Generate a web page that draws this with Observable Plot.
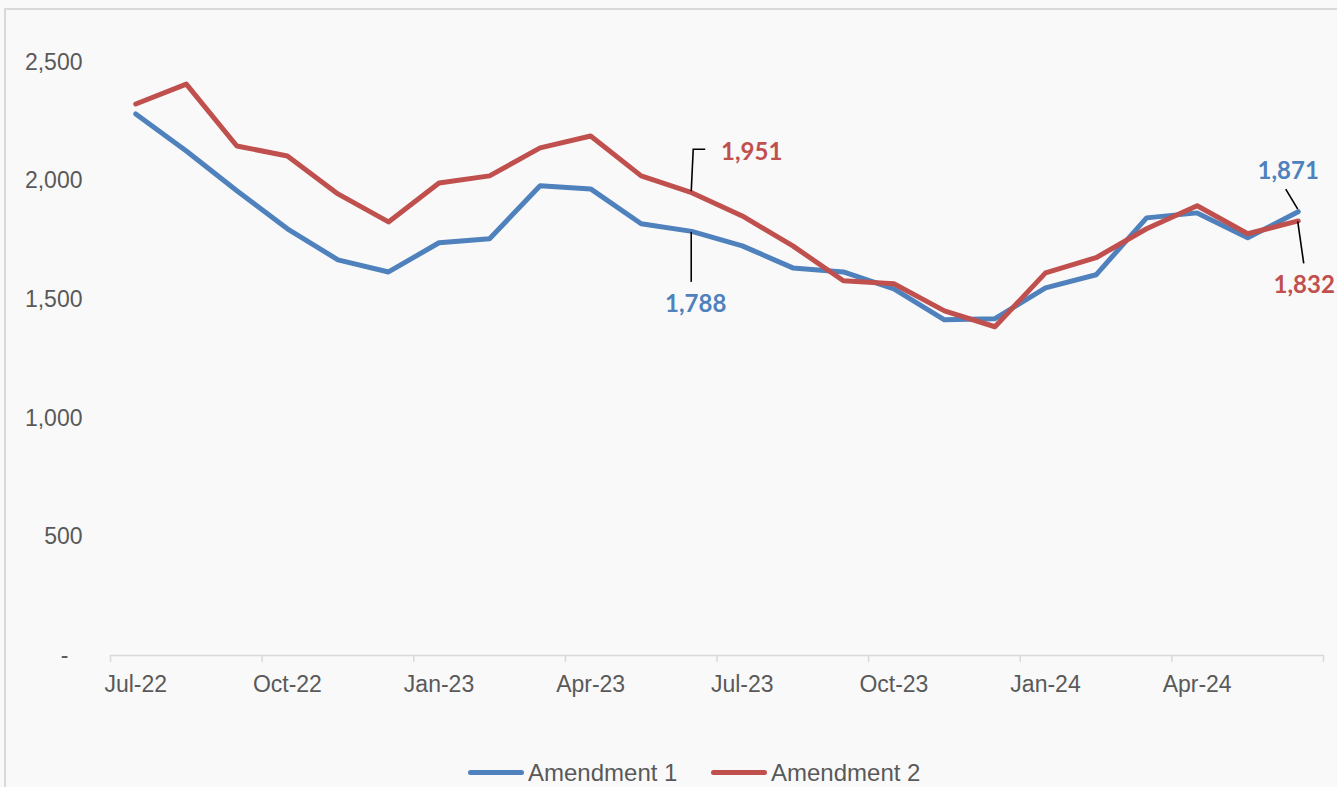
<!DOCTYPE html>
<html><head><meta charset="utf-8">
<script src="https://cdn.jsdelivr.net/npm/d3@7"></script>
<script src="https://cdn.jsdelivr.net/npm/@observablehq/plot@0.6"></script>
<style>
html,body{margin:0;padding:0;background:#fff;overflow:hidden;}
#wrap{position:relative;width:1337px;height:787px;background:#f9f9f9;overflow:hidden;}
#frame{position:absolute;left:4px;top:8px;width:1400px;height:900px;border:2px solid #d9d9d9;box-sizing:border-box;}
#chart{position:absolute;left:0;top:0;}
#legend{position:absolute;left:0;top:759px;width:1337px;font-family:"Liberation Sans",Arial,sans-serif;font-size:24px;color:#595959;}
.item{position:absolute;top:0;display:flex;align-items:center;white-space:nowrap;line-height:27px;}
.swatch{display:inline-block;width:56px;height:5px;border-radius:3px;margin-right:4px;}
</style>
</head><body>
<div id="wrap"><div id="frame"></div><div id="chart"></div><div id="legend"></div></div>
<script>
const months = ["Jul-22","Aug-22","Sep-22","Oct-22","Nov-22","Dec-22","Jan-23","Feb-23","Mar-23","Apr-23","May-23","Jun-23","Jul-23","Aug-23","Sep-23","Oct-23","Nov-23","Dec-23","Jan-24","Feb-24","Mar-24","Apr-24","May-24","Jun-24"];
const amendment1 = [2283,2127,1959,1799,1668,1617,1740,1757,1980,1967,1820,1788,1727,1634,1617,1546,1415,1420,1550,1605,1845,1866,1761,1871];
const amendment2 = [2325,2409,2148,2106,1946,1828,1992,2022,2140,2190,2022,1951,1853,1727,1580,1567,1453,1386,1613,1677,1799,1896,1778,1832];
const seriesNames = ["Amendment 1","Amendment 2"];
const seriesColors = ["#4F81BD","#C0504D"];
const quarterLabels = ["Jul-22","Oct-22","Jan-23","Apr-23","Jul-23","Oct-23","Jan-24","Apr-24"];
const yTicks = [0,500,1000,1500,2000,2500];
const labelled = [
  {s:1, m:"Jun-23"}, {s:0, m:"Jun-23"}, {s:0, m:"Jun-24"}, {s:1, m:"Jun-24"}
];
// pixel offsets for annotation text and leader lines (style, not data)
const annoStyle = [
  {dx:60, dy:-40, leader:[[0,-1],[2,-43],[14,-43]]},
  {dx:4, dy:73, leader:[[0,1],[0,51]]},
  {dx:-10, dy:-40, leader:[[-12,-22],[0,-2]]},
  {dx:6, dy:64, leader:[[0,1],[6,43]]}
];

const seriesValues = [amendment1, amendment2];
const rows = [];
seriesValues.forEach((vals, s) => vals.forEach((v, i) => rows.push({i, month: months[i], series: seriesNames[s], value: v})));

const quarterIdx = quarterLabels.map(q => months.indexOf(q));
const uniqBounds = Array.from(new Set(d3.range(-0.5, months.length, 3).concat([months.length - 0.5])));

const annos = labelled.map((a, k) => {
  const i = months.indexOf(a.m);
  const v = seriesValues[a.s][i];
  return {i, value: v, color: seriesColors[a.s], text: d3.format(",")(v), ...annoStyle[k]};
});

const font = '"Liberation Sans", Arial, sans-serif';
const marks = [
  Plot.ruleY([0], {x1: -0.5, x2: months.length - 0.5, stroke: "#d9d9d9", strokeWidth: 1.5}),
  Plot.axisX(uniqBounds, {tickSize: 7, tickFormat: () => "", label: null, stroke: "#d9d9d9", strokeWidth: 1.5}),
  Plot.text(quarterIdx, {x: d => d, y: 0, text: (d, k) => quarterLabels[k], dy: 29, lineAnchor: "middle", fontSize: 23, fill: "#595959", fontFamily: font}),
  Plot.axisY(yTicks.filter(d => d > 0), {tickSize: 0, tickPadding: 28, label: null, tickFormat: d3.format(","), fontSize: 23, fill: "#595959", fontFamily: font}),
  Plot.text([0], {y: d => d, frameAnchor: "left", dx: -42, textAnchor: "end", text: () => "-", fontSize: 23, fill: "#595959", fontFamily: font}),
];
seriesNames.forEach((name, s) => {
  marks.push(Plot.line(rows.filter(r => r.series === name), {x: "i", y: "value", stroke: seriesColors[s], strokeWidth: 5, strokeLinejoin: "round", strokeLinecap: "round"}));
});
annos.forEach(a => {
  marks.push(Plot.text([a], {x: "i", y: "value", text: "text", dx: a.dx, dy: a.dy, fill: a.color, fontWeight: "bold", fontSize: 24, fontFamily: "Lato, sans-serif", lineAnchor: "middle"}));
});

const plot = Plot.plot({
  width: 1337, height: 700,
  marginLeft: 110, marginRight: 14, marginTop: 62, marginBottom: 45,
  style: {background: "transparent", overflow: "visible"},
  x: {type: "linear", domain: [-0.5, months.length - 0.5], axis: null},
  y: {domain: [0, 2500], axis: null},
  marks
});
const sx = plot.scale("x"), sy = plot.scale("y");
const svg = d3.select(plot);
annos.forEach(a => {
  const px = sx.apply(a.i), py = sy.apply(a.value);
  svg.append("path")
    .attr("d", d3.line()(a.leader.map(([ox, oy]) => [px + ox, py + oy])))
    .attr("fill", "none").attr("stroke", "#000").attr("stroke-width", 1.6);
});
document.getElementById("chart").appendChild(plot);

const legendPos = [468, 711];
const legend = document.getElementById("legend");
seriesNames.forEach((name, s) => {
  const it = document.createElement("div");
  it.className = "item";
  it.style.left = legendPos[s] + "px";
  it.innerHTML = `<span class="swatch" style="background:${seriesColors[s]}"></span><span>${name}</span>`;
  legend.appendChild(it);
});
</script>
</body></html>
